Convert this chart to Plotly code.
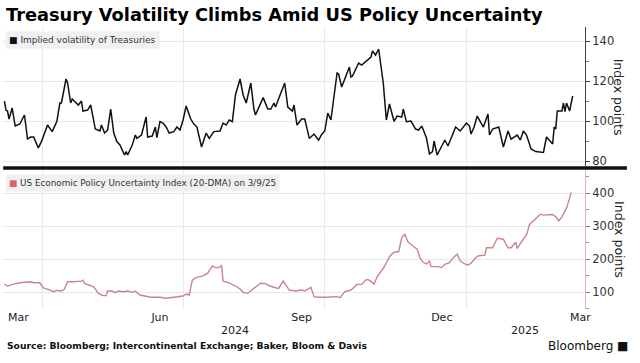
import plotly.graph_objects as go

# ---------------- data ----------------
vol_dates = [
    "2024-03-07", "2024-03-08", "2024-03-09", "2024-03-10", "2024-03-12", "2024-03-14", "2024-03-17",
    "2024-03-20", "2024-03-22", "2024-03-24", "2024-03-26", "2024-03-29", "2024-03-31", "2024-04-02",
    "2024-04-04", "2024-04-07", "2024-04-10", "2024-04-12", "2024-04-13", "2024-04-16", "2024-04-17",
    "2024-04-19", "2024-04-20", "2024-04-24", "2024-04-26", "2024-04-27", "2024-04-30", "2024-05-02",
    "2024-05-04", "2024-05-05", "2024-05-08", "2024-05-09", "2024-05-11", "2024-05-13", "2024-05-15",
    "2024-05-17", "2024-05-19", "2024-05-21", "2024-05-24", "2024-05-25", "2024-05-26", "2024-05-29",
    "2024-05-31", "2024-06-01", "2024-06-04", "2024-06-07", "2024-06-08", "2024-06-11", "2024-06-13",
    "2024-06-14", "2024-06-16", "2024-06-18", "2024-06-20", "2024-06-22", "2024-06-25", "2024-06-27",
    "2024-06-29", "2024-07-01", "2024-07-03", "2024-07-06", "2024-07-08", "2024-07-10", "2024-07-13",
    "2024-07-16", "2024-07-18", "2024-07-21", "2024-07-25", "2024-07-27", "2024-07-29", "2024-07-31",
    "2024-08-02", "2024-08-04", "2024-08-07", "2024-08-09", "2024-08-11", "2024-08-14", "2024-08-16",
    "2024-08-17", "2024-08-22", "2024-08-25", "2024-08-27", "2024-08-29", "2024-08-30", "2024-09-05",
    "2024-09-07", "2024-09-10", "2024-09-11", "2024-09-13", "2024-09-16", "2024-09-18", "2024-09-21",
    "2024-09-24", "2024-09-27", "2024-09-29", "2024-10-01", "2024-10-03", "2024-10-05", "2024-10-09",
    "2024-10-10", "2024-10-12", "2024-10-17", "2024-10-18", "2024-10-19", "2024-10-23", "2024-10-25",
    "2024-10-29", "2024-10-31", "2024-11-01", "2024-11-03", "2024-11-05", "2024-11-08", "2024-11-10",
    "2024-11-12", "2024-11-15", "2024-11-17", "2024-11-20", "2024-11-21", "2024-11-23", "2024-11-26",
    "2024-11-29", "2024-12-01", "2024-12-03", "2024-12-06", "2024-12-08", "2024-12-10", "2024-12-11",
    "2024-12-13", "2024-12-15", "2024-12-17", "2024-12-18", "2024-12-20", "2024-12-22", "2024-12-25",
    "2024-12-28", "2025-01-01", "2025-01-03", "2025-01-04", "2025-01-06", "2025-01-08", "2025-01-10",
    "2025-01-12", "2025-01-15", "2025-01-16", "2025-01-18", "2025-01-22", "2025-01-25", "2025-01-28",
    "2025-01-30", "2025-02-03", "2025-02-05", "2025-02-07", "2025-02-09", "2025-02-12", "2025-02-15",
    "2025-02-20", "2025-02-22", "2025-02-26", "2025-02-27", "2025-02-28", "2025-03-01", "2025-03-04",
    "2025-03-05", "2025-03-06", "2025-03-07", "2025-03-09", "2025-03-11",
]
vol_values = [
    110, 105.5, 105, 101, 106.5, 97.5, 98.5,
    103, 91, 92, 92, 86.5, 89.7, 94,
    98, 94.7, 99.7, 109, 109, 121, 119,
    109, 111, 108, 110, 105, 105.5, 108,
    100.5, 96, 95, 98, 94, 95.5, 106,
    94, 89.7, 88, 83, 84.7, 83, 88,
    93, 91.3, 93, 102, 92, 92.5, 97,
    91.7, 99.7, 99, 97, 94, 94.7, 97,
    95.5, 100.5, 107.5, 101, 98.5, 97, 87,
    94, 91.3, 94.7, 95, 99, 98, 100.5,
    99.7, 113, 121, 113, 109, 119, 106,
    103, 111.7, 106, 106, 109, 107, 119,
    107, 105, 108, 98, 101, 101, 91.3,
    93.5, 90.5, 93.3, 95, 104, 100.5, 124,
    123.5, 117, 127, 122, 122.5, 129, 128,
    131, 132, 135, 133, 136, 119, 100.5,
    108.5, 99.8, 102.5, 102, 106, 99.7, 100,
    96, 95.5, 97.5, 91.7, 83.5, 84.7, 90,
    83, 86, 89, 90.5, 87.5, 91.3, 97,
    95, 99, 97.5, 93.5, 97, 102.5, 99.7,
    97, 103.5, 93, 96, 97, 87, 95,
    91, 93, 90.5, 95, 93, 86, 84.7,
    84.3, 92, 88.5, 97, 96, 105, 105,
    109, 104.7, 109, 105, 112.5,
]

epu_dates = [
    "2024-03-07", "2024-03-09", "2024-03-13", "2024-03-17", "2024-03-24", "2024-03-26", "2024-03-30",
    "2024-04-01", "2024-04-06", "2024-04-08", "2024-04-10", "2024-04-13", "2024-04-15", "2024-04-17",
    "2024-04-21", "2024-04-26", "2024-04-27", "2024-04-28", "2024-05-04", "2024-05-07", "2024-05-10",
    "2024-05-12", "2024-05-13", "2024-05-16", "2024-05-18", "2024-05-20", "2024-05-23", "2024-05-26",
    "2024-05-29", "2024-05-31", "2024-06-03", "2024-06-07", "2024-06-10", "2024-06-16", "2024-06-20",
    "2024-06-25", "2024-07-01", "2024-07-03", "2024-07-05", "2024-07-07", "2024-07-09", "2024-07-11",
    "2024-07-14", "2024-07-17", "2024-07-20", "2024-07-22", "2024-07-24", "2024-07-26", "2024-07-27",
    "2024-07-30", "2024-08-03", "2024-08-05", "2024-08-07", "2024-08-09", "2024-08-12", "2024-08-14",
    "2024-08-17", "2024-08-20", "2024-08-23", "2024-08-26", "2024-08-30", "2024-09-01", "2024-09-04",
    "2024-09-06", "2024-09-08", "2024-09-12", "2024-09-16", "2024-09-18", "2024-09-22", "2024-09-24",
    "2024-09-27", "2024-10-01", "2024-10-05", "2024-10-09", "2024-10-11", "2024-10-14", "2024-10-18",
    "2024-10-22", "2024-10-25", "2024-10-28", "2024-10-30", "2024-11-02", "2024-11-04", "2024-11-08",
    "2024-11-11", "2024-11-12", "2024-11-14", "2024-11-16", "2024-11-18", "2024-11-20", "2024-11-22",
    "2024-11-24", "2024-11-26", "2024-11-28", "2024-11-30", "2024-12-02", "2024-12-04", "2024-12-06",
    "2024-12-08", "2024-12-09", "2024-12-13", "2024-12-16", "2024-12-18", "2024-12-21", "2024-12-23",
    "2024-12-26", "2024-12-28", "2024-12-31", "2025-01-02", "2025-01-04", "2025-01-07", "2025-01-09",
    "2025-01-13", "2025-01-14", "2025-01-18", "2025-01-21", "2025-01-25", "2025-01-28", "2025-01-30",
    "2025-02-02", "2025-02-03", "2025-02-06", "2025-02-09", "2025-02-11", "2025-02-15", "2025-02-18",
    "2025-02-20", "2025-02-23", "2025-02-26", "2025-02-28", "2025-03-02", "2025-03-04", "2025-03-07",
    "2025-03-09", "2025-03-10",
]
epu_values = [
    124, 118, 124, 128, 131, 128, 128,
    113, 105, 101, 105, 103, 109, 131,
    131, 133, 136, 126, 116, 96, 89,
    89, 103, 103, 98, 103, 101, 103,
    99, 103, 91, 88, 84, 84, 81,
    84, 88, 94, 91, 136, 143, 146,
    149, 157, 179, 174, 174, 180, 133,
    129, 121, 116, 109, 99, 96, 103,
    116, 126, 126, 119, 113, 111, 133,
    119, 106, 103, 106, 103, 114, 86,
    84, 84, 86, 86, 83, 101, 106,
    123, 123, 138, 136, 124, 146, 172,
    197, 207, 217, 222, 222, 265, 275,
    252, 244, 237, 230, 202, 190, 185,
    194, 177, 177, 174, 184, 189, 202,
    215, 194, 185, 182, 187, 204, 210,
    212, 234, 234, 263, 260, 234, 234,
    251, 232, 254, 273, 305, 323, 336,
    333, 335, 335, 328, 316, 328, 355,
    384, 402,
]

month_tick_dates = ["2024-03-16", "2024-06-16", "2024-09-16", "2024-12-16", "2025-03-16"]
month_tick_labels = ["Mar", "Jun", "Sep", "Dec", "Mar"]
grid_dates = ["2024-04-01", "2024-07-01", "2024-10-01", "2025-01-01"]
year_labels = ["2024", "2025"]
year_label_dates = ["2024-08-04", "2025-02-08"]

vol_ticks = [80, 100, 120, 140]
epu_ticks = [100, 200, 300, 400]

title = "Treasury Volatility Climbs Amid US Policy Uncertainty"
vol_name = "Implied volatility of Treasuries"
epu_name = "US Economic Policy Uncertainty Index (20-DMA) on 3/9/25"
source = "Source: Bloomberg; Intercontinental Exchange; Baker, Bloom & Davis"

# ---------------- styles ----------------
FONT = "DejaVu Sans"
GRID = "#e9e9e9"
VOL_COLOR = "#111111"
EPU_COLOR = "#c98589"
EPU_AXIS = "#e2b4b6"
X_RANGE = ["2024-03-05 10:00", "2025-03-19"]

fig = go.Figure()
fig.add_trace(go.Scatter(x=vol_dates, y=vol_values, mode="lines", xaxis="x2", yaxis="y",
                         line=dict(color=VOL_COLOR, width=1.5), showlegend=False, name=vol_name))
fig.add_trace(go.Scatter(x=epu_dates, y=epu_values, mode="lines", xaxis="x", yaxis="y2",
                         line=dict(color=EPU_COLOR, width=1.4), showlegend=False, name=epu_name))

minor_grid = dict(tickmode="array", tickvals=grid_dates, showgrid=True, gridcolor=GRID,
                  gridwidth=1, ticks="")

fig.update_layout(
    width=640, height=363,
    margin=dict(l=2, r=55, t=27, b=54),
    paper_bgcolor="white", plot_bgcolor="white",
    font=dict(family=FONT, color="#222222", size=11),
    xaxis=dict(domain=[0, 1], anchor="y2", type="date", range=X_RANGE,
               tickmode="array", tickvals=month_tick_dates, ticktext=month_tick_labels,
               showgrid=False, ticks="", showline=False, zeroline=False,
               tickfont=dict(size=11, color="#222222"), minor=minor_grid),
    xaxis2=dict(domain=[0, 1], anchor="y", type="date", range=X_RANGE, matches="x",
                showticklabels=False, showgrid=False, ticks="", showline=False,
                minor=minor_grid),
    yaxis=dict(domain=[0.507, 1], anchor="x2", side="right", range=[77.5, 147],
               tickmode="array", tickvals=vol_ticks, showgrid=True, gridcolor=GRID,
               zeroline=False, showline=True, linecolor="#444444", linewidth=1,
               ticks="outside", ticklen=4, tickcolor="#444444",
               minor=dict(dtick=10, tick0=0, ticks="outside", ticklen=3, tickcolor="#777777"),
               tickfont=dict(size=11.5, color="#333333")),
    yaxis2=dict(domain=[0, 0.493], anchor="x", side="right", range=[48.5, 470],
                tickmode="array", tickvals=epu_ticks, showgrid=True, gridcolor=GRID,
                zeroline=False, showline=True, linecolor=EPU_AXIS, linewidth=1,
                ticks="outside", ticklen=4, tickcolor="#777777",
                minor=dict(dtick=50, tick0=0, ticks="outside", ticklen=3, tickcolor="#999999"),
                tickfont=dict(size=11.5, color="#333333")),
)

# separator between panels
fig.add_shape(type="line", xref="paper", yref="paper", x0=0.002, x1=1.072, y0=0.5, y1=0.5,
              line=dict(color="#111111", width=3.5))

ann = []
ann.append(dict(text="<b>" + title + "</b>", xref="paper", yref="paper", x=0.004, y=1.043,
                xanchor="left", yanchor="middle", showarrow=False,
                font=dict(size=17.8, color="#000000", family=FONT)))
# legend boxes
ann.append(dict(text="<span style='color:#111111'>■</span> " + vol_name, xref="paper", yref="paper",
                x=0.005, y=0.985, xanchor="left", yanchor="top", showarrow=False,
                bgcolor="#f0f0f0", borderpad=3,
                font=dict(size=9, color="#333333", family=FONT)))
ann.append(dict(text="<span style='color:#d9656b'>■</span> " + epu_name, xref="paper", yref="paper",
                x=0.005, y=0.478, xanchor="left", yanchor="top", showarrow=False,
                bgcolor="#f0f0f0", borderpad=3,
                font=dict(size=8.8, color="#333333", family=FONT)))
# axis titles
for ypos in (0.75, 0.245):
    ann.append(dict(text="Index points", xref="paper", yref="paper", x=1.058, y=ypos,
                    xanchor="center", yanchor="middle", textangle=90, showarrow=False,
                    font=dict(size=12.5, color="#222222", family=FONT)))
# year labels
for lab, d in zip(year_labels, year_label_dates):
    ann.append(dict(text=lab, xref="x", yref="paper", x=d, y=-0.075, xanchor="center",
                    yanchor="middle", showarrow=False, font=dict(size=11, color="#222222")))
# source and brand
ann.append(dict(text="<b>" + source + "</b>", xref="paper", yref="paper", x=0.005, y=-0.13,
                xanchor="left", yanchor="middle", showarrow=False,
                font=dict(size=9.2, color="#111111", family=FONT)))
ann.append(dict(text="Bloomberg ■", xref="paper", yref="paper", x=1.078, y=-0.13,
                xanchor="right", yanchor="middle", showarrow=False,
                font=dict(size=12, color="#111111", family=FONT)))
fig.update_layout(annotations=ann)

fig.write_html("out.html", config={"displayModeBar": False},
               post_script="document.body.style.margin='0';document.body.style.padding='0';")
